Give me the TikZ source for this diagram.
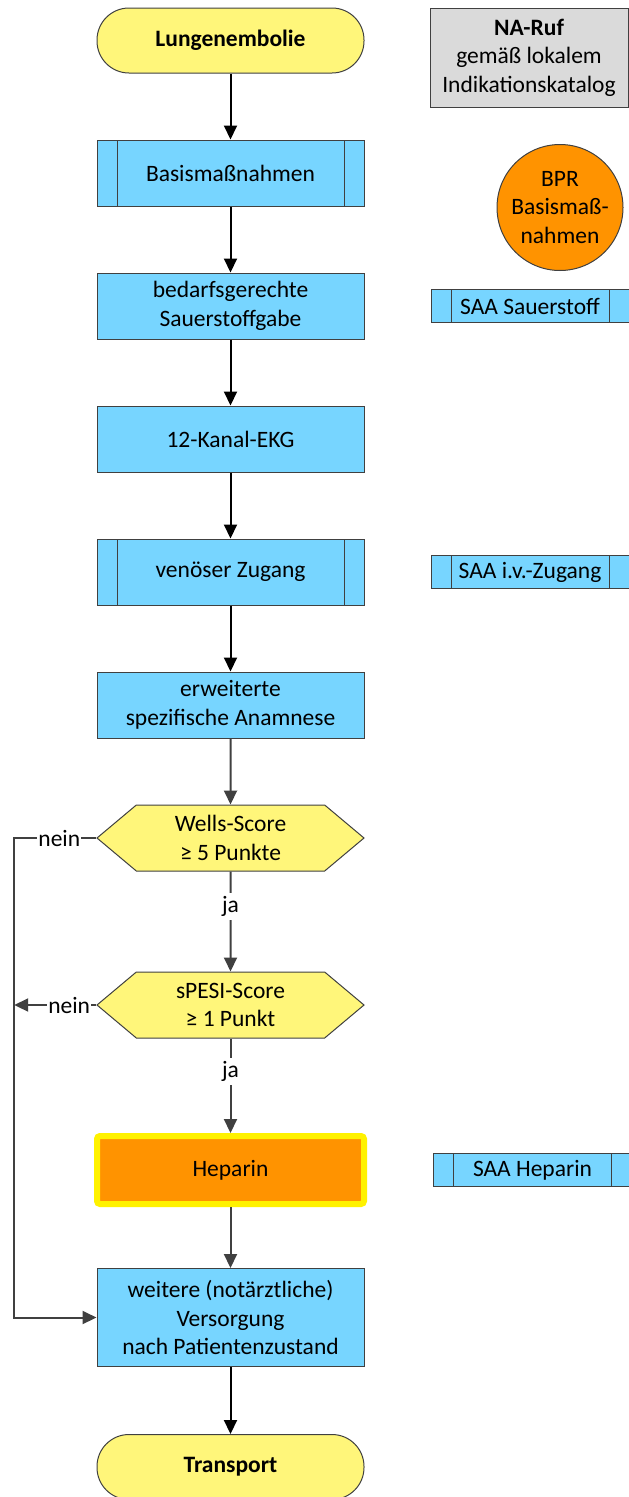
\documentclass[tikz,border=0pt]{standalone}
\usepackage{fontspec}
\setmainfont{Carlito}
\usetikzlibrary{shapes,arrows.meta,positioning}

\definecolor{procblue}{HTML}{77D5FF}
\definecolor{termyellow}{HTML}{FFF67A}
\definecolor{bprorange}{HTML}{FF9300}
\definecolor{nagray}{HTML}{DADADA}
\definecolor{linegray}{HTML}{404040}

\begin{document}
\begin{tikzpicture}[
    x=1pt, y=-1pt,
    node distance=66pt,
    every node/.style={font=\fontsize{23.5}{28.5}\selectfont},
    base/.style={rectangle, draw=linegray, line width=1pt, minimum width=267pt, minimum height=66pt, align=center, inner sep=2pt},
    term/.style={base, rounded corners=32pt, fill=termyellow, minimum height=65pt, font=\fontsize{23.5}{28.5}\selectfont\bfseries},
    proc/.style={base, fill=procblue},
    sub/.style={proc, path picture={
        \draw[linegray, line width=1pt] ([xshift=20pt]path picture bounding box.north west) -- ([xshift=20pt]path picture bounding box.south west);
        \draw[linegray, line width=1pt] ([xshift=-20pt]path picture bounding box.north east) -- ([xshift=-20pt]path picture bounding box.south east);}},
    saa/.style={sub, minimum width=198pt, minimum height=33pt, inner sep=1pt},
    decision/.style={base, shape=signal, signal to=west and east, signal pointer angle=80, fill=termyellow},
    drug/.style={rectangle, fill=bprorange, draw=yellow, line width=6pt, rounded corners=3pt, minimum width=267pt, minimum height=68pt},
    lbl/.style={fill=white, text=black, inner sep=3pt},
    arr/.style={-{Triangle[length=14pt,width=13pt]}, line width=2pt},
    garr/.style={arr, linegray}
]
\useasboundingbox (0,0) rectangle (629,1497);
% main column
\node[term] (start) at (230.5,40.5) {Lungenembolie};
\node[sub, below=of start] (basis) {Basismaßnahmen};
\node[proc, below=of basis] (oxy) {bedarfsgerechte\\Sauerstoffgabe};
\node[proc, below=of oxy] (ekg) {12-Kanal-EKG};
\node[sub, below=of ekg] (iv) {venöser Zugang};
\node[proc, below=of iv] (anam) {erweiterte\\spezifische Anamnese};
\node[decision, below=of anam] (wells) {Wells-Score\\≥ 5 Punkte};
\node[decision, below=100pt of wells] (spesi) {sPESI-Score\\≥ 1 Punkt};
\node[drug, below=94.5pt of spesi] (hep) {Heparin};
\node[proc, below=61pt of hep, minimum height=98pt] (care) {weitere (notärztliche)\\Versorgung\\nach Patientenzustand};
\node[term, below=67pt of care] (end) {Transport};

% right column
\node[base, fill=nagray, minimum width=198pt, minimum height=99pt] (naruf) at (529,57.5) {\textbf{NA-Ruf}\\gemäß lokalem\\Indikationskatalog};
\node[circle, draw=linegray, line width=1pt, fill=bprorange, minimum size=126pt, align=center, inner sep=0pt] (bpr) at (560,207.5) {BPR\\Basismaß-\\nahmen};
\node[saa, right=66pt of oxy] (saaoxy) {SAA Sauerstoff};
\node[saa, right=66pt of iv] (saaiv) {SAA i.v.-Zugang};
\node[saa, right=66pt of hep] (saahep) {SAA Heparin};

% connectors
\draw[arr] (start) -- (basis);
\draw[arr] (basis) -- (oxy);
\draw[arr] (oxy) -- (ekg);
\draw[arr] (ekg) -- (iv);
\draw[arr] (iv) -- (anam);
\draw[garr] (anam) -- (wells);
\draw[garr] (wells) -- node[lbl, pos=0.35] {ja} (spesi);
\draw[garr] (spesi) -- node[lbl, pos=0.35] {ja} (hep);
\draw[garr] (hep) -- (care);
\draw[arr] (care) -- (end);

\coordinate (looptop) at ([xshift=-82pt]wells.west);
\coordinate (loopbot) at (looptop |- care.west);
\draw[garr] (wells.west) -- node[lbl, pos=0.45, inner sep=1pt] {nein} (looptop) -- (loopbot) -- (care.west);
\draw[garr] (spesi.west) -- node[lbl, pos=0.33, inner sep=1pt] {nein} (spesi.west -| looptop);
\end{tikzpicture}
\end{document}
